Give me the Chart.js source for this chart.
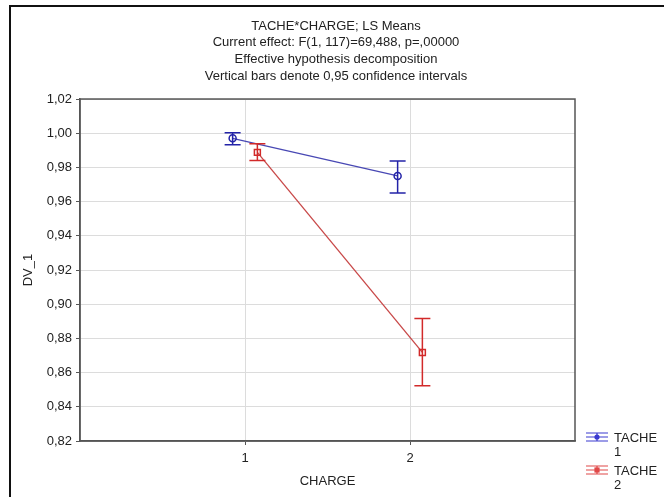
<!DOCTYPE html>
<html>
<head>
<meta charset="utf-8">
<script src="https://cdn.jsdelivr.net/npm/chart.js@4/dist/chart.umd.min.js"></script>
<style>
  html, body { margin: 0; padding: 0; background: #fff; }
  canvas { display: block; }
</style>
</head>
<body>
<canvas id="chart" width="664" height="497"></canvas>
<script>
// values
const categories = ['1', '2'];
const categoryValues = [1, 2];
const dodge = [-0.075, 0.075];
const seriesNames = ['TACHE 1', 'TACHE 2'];
const tache1Means = [0.997, 0.975];
const tache1Lower = [0.9933, 0.965];
const tache1Upper = [1.0003, 0.9837];
const tache2Means = [0.9888, 0.8718];
const tache2Lower = [0.9841, 0.8523];
const tache2Upper = [0.9939, 0.8917];
const yTicks = [0.82, 0.84, 0.86, 0.88, 0.90, 0.92, 0.94, 0.96, 0.98, 1.00, 1.02];
const titleLines = [
    'TACHE*CHARGE; LS Means',
    'Current effect: F(1, 117)=69,488, p=,00000',
    'Effective hypothesis decomposition',
    'Vertical bars denote 0,95 confidence intervals'
];

const means = [tache1Means, tache2Means];
const lowers = [tache1Lower, tache2Lower];
const uppers = [tache1Upper, tache2Upper];
const lineColors = ['#4848b4', '#c84848'];
const markColors = ['#2323a8', '#d22a2a'];
const legendColors = ['#3a3ad0', '#e04848'];
const pointStyles = ['circle', 'rect'];

Chart.defaults.font.family = '"Liberation Sans", Arial, sans-serif';
Chart.defaults.font.size = 13;
Chart.defaults.color = '#222';

function toPoints(values, s){
    return values.map((v, i) => ({ x: categoryValues[i] + dodge[s], y: v }));
}

const datasets = seriesNames.map((name, s) => ({
    label: name,
    data: toPoints(means[s], s),
    borderColor: lineColors[s],
    borderWidth: 1.3,
    pointStyle: pointStyles[s],
    pointRadius: s === 0 ? 3.5 : 4.2,
    pointBorderColor: markColors[s],
    pointBackgroundColor: 'rgba(255,255,255,0)',
    pointBorderWidth: 1.5,
    tension: 0,
    fill: false
}));

const framePlugin = {
    id: 'frame',
    beforeDraw(chart){
        const ctx = chart.ctx;
        ctx.save();
        ctx.fillStyle = '#fff';
        ctx.fillRect(0, 0, chart.width, chart.height);
        ctx.strokeStyle = '#111';
        ctx.lineWidth = 2;
        ctx.beginPath();
        ctx.moveTo(10, chart.height);
        ctx.lineTo(10, 6);
        ctx.lineTo(chart.width, 6);
        ctx.stroke();
        ctx.restore();
    },
    beforeDatasetsDraw(chart){
        const a = chart.chartArea;
        const ctx = chart.ctx;
        ctx.save();
        ctx.strokeStyle = '#555';
        ctx.lineWidth = 1.5;
        ctx.strokeRect(a.left, a.top, a.right - a.left, a.bottom - a.top);
        ctx.restore();
    }
};

const errorBarPlugin = {
    id: 'errorBars',
    afterDatasetsDraw(chart){
        const ctx = chart.ctx;
        const xs = chart.scales.x;
        const ys = chart.scales.y;
        ctx.save();
        ctx.lineWidth = 1.5;
        seriesNames.forEach((name, s) => {
            ctx.strokeStyle = markColors[s];
            means[s].forEach((m, i) => {
                const x = xs.getPixelForValue(categoryValues[i] + dodge[s]);
                const yLo = ys.getPixelForValue(lowers[s][i]);
                const yHi = ys.getPixelForValue(uppers[s][i]);
                ctx.beginPath();
                ctx.moveTo(x, yLo);
                ctx.lineTo(x, yHi);
                ctx.moveTo(x - 8, yLo);
                ctx.lineTo(x + 8, yLo);
                ctx.moveTo(x - 8, yHi);
                ctx.lineTo(x + 8, yHi);
                ctx.stroke();
            });
        });
        ctx.restore();
    }
};

const legendPlugin = {
    id: 'sideLegend',
    afterDraw(chart){
        const ctx = chart.ctx;
        const a = chart.chartArea;
        const cx = a.right + 22;
        ctx.save();
        ctx.font = '13px "Liberation Sans", Arial, sans-serif';
        ctx.textBaseline = 'middle';
        ctx.textAlign = 'left';
        seriesNames.forEach((name, s) => {
            const cy = a.bottom - 4 + s * 33;
            const col = legendColors[s];
            ctx.strokeStyle = col;
            ctx.fillStyle = col;
            ctx.lineWidth = 1.2;
            ctx.beginPath();
            [-4, 0, 4].forEach(d => {
                ctx.moveTo(cx - 11, cy + d);
                ctx.lineTo(cx + 11, cy + d);
            });
            ctx.moveTo(cx, cy - 4);
            ctx.lineTo(cx, cy + 4);
            ctx.stroke();
            ctx.beginPath();
            if (pointStyles[s] === 'circle') {
                ctx.arc(cx, cy, 2.6, 0, Math.PI * 2);
            } else {
                ctx.rect(cx - 2.6, cy - 2.6, 5.2, 5.2);
            }
            ctx.fill();
            ctx.fillStyle = '#222';
            name.split(' ').forEach((word, k) => {
                ctx.fillText(word, cx + 17, cy + 1 + k * 14);
            });
        });
        ctx.restore();
    }
};

new Chart(document.getElementById('chart'), {
    type: 'line',
    data: { datasets },
    options: {
        responsive: false,
        animation: false,
        devicePixelRatio: 1,
        layout: { padding: { left: 8, top: 0, right: 0, bottom: 0 } },
        plugins: {
            legend: { display: false },
            tooltip: { enabled: false },
            title: {
                display: true,
                text: titleLines,
                color: '#222',
                font: { size: 13, weight: 'normal', lineHeight: 1.285 },
                padding: { top: 17.6, bottom: 14.6 }
            }
        },
        scales: {
            x: {
                type: 'linear',
                min: 0,
                max: 3,
                afterBuildTicks: s => { s.ticks = categoryValues.map(v => ({ value: v })); },
                afterFit: s => { s.height = 56; },
                ticks: {
                    callback: v => categories[categoryValues.indexOf(v)],
                    padding: 6,
                    color: '#222',
                    maxRotation: 0
                },
                grid: { color: '#dcdcdc', tickLength: 4, tickColor: '#555' },
                border: { color: '#555', width: 1.5 },
                title: { display: true, text: 'CHARGE', color: '#222', padding: { top: 0, bottom: 7.8 } }
            },
            y: {
                type: 'linear',
                min: 0.82,
                max: 1.02,
                afterBuildTicks: s => { s.ticks = yTicks.map(v => ({ value: v })); },
                afterFit: s => { s.width = 72; },
                ticks: {
                    callback: v => v.toFixed(2).replace('.', ','),
                    padding: 4,
                    color: '#222'
                },
                grid: { color: '#dcdcdc', tickLength: 4, tickColor: '#555' },
                border: { color: '#555', width: 1.5 },
                title: { display: true, text: 'DV_1', color: '#222', padding: { top: 13, bottom: 0 } }
            },
            side: {
                type: 'linear',
                position: 'right',
                display: true,
                afterFit: s => { s.width = 89; },
                grid: { display: false },
                ticks: { display: false },
                border: { display: false }
            }
        }
    },
    plugins: [framePlugin, errorBarPlugin, legendPlugin]
});
</script>
</body>
</html>
